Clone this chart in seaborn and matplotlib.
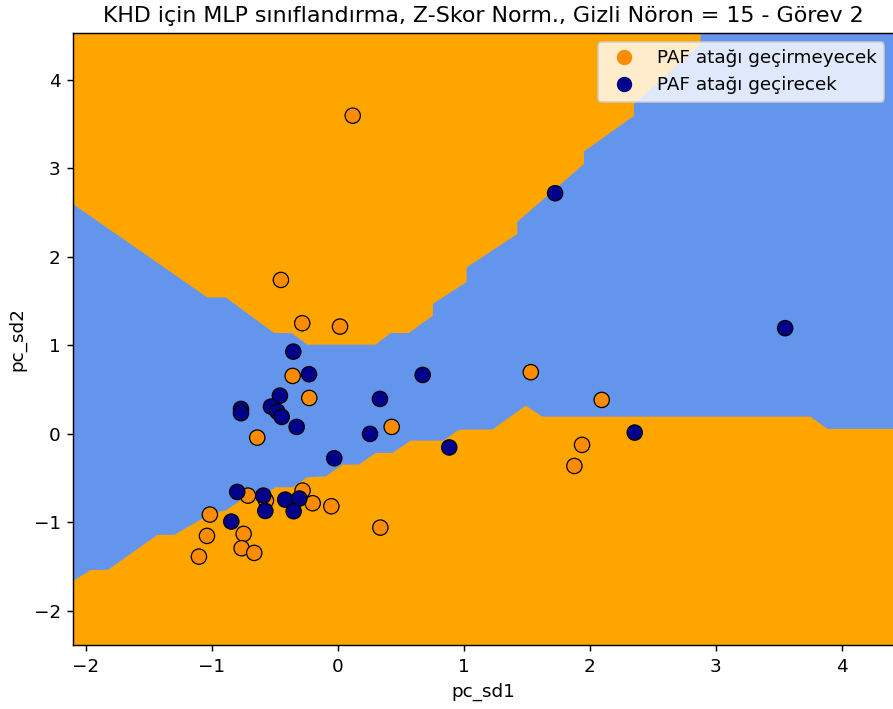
import matplotlib
matplotlib.use("Agg")
import matplotlib.pyplot as plt
from matplotlib.lines import Line2D
import seaborn as sns
import pandas as pd

# ---- data ----
class_labels = ["PAF atağı geçirmeyecek", "PAF atağı geçirecek"]

no_x = [0.118, -0.452, -0.283, 0.017, -0.359, -0.227, -0.640, 0.427,
        -0.714, -0.571, -0.280, -0.200, -0.052, 0.337, -1.016, -1.039,
        -0.748, -0.764, -0.664, -1.103, 1.531, 2.094, 1.938, 1.877]
no_y = [3.593, 1.738, 1.249, 1.211, 0.654, 0.405, -0.043, 0.078,
        -0.698, -0.754, -0.641, -0.784, -0.818, -1.059, -0.912, -1.153,
        -1.130, -1.292, -1.345, -1.387, 0.696, 0.383, -0.125, -0.363]

yes_x = [-0.354, -0.229, -0.460, -0.769, -0.769, -0.531, -0.481, -0.446,
         -0.327, 0.334, 0.255, -0.799, -0.592, -0.576, -0.418, -0.306,
         -0.351, -0.846, 1.724, 3.550, 0.673, -0.029, 0.884, 2.356]
yes_y = [0.928, 0.673, 0.431, 0.281, 0.233, 0.307, 0.251, 0.191,
         0.078, 0.394, -0.001, -0.656, -0.698, -0.871, -0.743, -0.731,
         -0.874, -0.991, 2.717, 1.193, 0.665, -0.276, -0.154, 0.014]

# decision boundary between the upper orange region and the blue region
upper_bx = [-2.10, -1.04, -0.894, -0.511, -0.371, -0.246, 0.296, 0.415, 0.560,
            0.750, 0.750, 1.018, 1.018, 1.420, 1.420, 1.949, 1.949, 2.346,
            2.346, 2.875]
upper_by = [2.593, 1.546, 1.546, 1.144, 1.144, 1.012, 1.012, 1.144, 1.144,
            1.340, 1.472, 1.721, 1.885, 2.262, 2.400, 3.052, 3.194, 3.597,
            3.729, 4.406]

# decision boundary between the blue region and the lower orange region
lower_bx = [-2.10, -1.965, -1.829, -1.437, -1.305, -0.99, -0.894, -0.762,
            -0.630, -0.498, -0.365, -0.246, -0.10, 0.032, 0.163, 0.296,
            0.429, 0.574, 0.833, 0.957, 1.222, 1.487, 1.619, 3.748, 3.881, 4.41]
lower_by = [-1.651, -1.531, -1.531, -1.136, -1.136, -0.88, -0.861, -0.729,
            -0.729, -0.598, -0.598, -0.485, -0.474, -0.342, -0.342, -0.210,
            -0.210, -0.071, -0.071, 0.053, 0.053, 0.324, 0.200, 0.200, 0.061, 0.061]

xlim = (-2.10, 4.41)
ylim = (-2.385, 4.53)

plt.rcParams["font.size"] = 10.2

# ---- figure ----
dpi = 130
fig = plt.figure(figsize=(893 / dpi, 709 / dpi), dpi=dpi)
ax = fig.add_axes([73.3 / 893, 64 / 709, (893.5 - 73.3) / 893, (645 - 32.7) / 709])

ax.set_facecolor("#6495ED")
ax.fill_between(upper_bx, upper_by, ylim[1], color="#FFA500", linewidth=0, zorder=1)
ax.fill_between(lower_bx, ylim[0], lower_by, color="#FFA500", linewidth=0, zorder=1)

df = pd.DataFrame({
    "pc_sd1": no_x + yes_x,
    "pc_sd2": no_y + yes_y,
    "sınıf": [class_labels[0]] * len(no_x) + [class_labels[1]] * len(yes_x),
})
palette = {class_labels[0]: "#FF8C00", class_labels[1]: "#00008B"}
sns.scatterplot(data=df, x="pc_sd1", y="pc_sd2", hue="sınıf", palette=palette,
                s=72, edgecolor="black", linewidth=0.7, ax=ax, legend=False, zorder=3)

ax.set_xlim(*xlim)
ax.set_ylim(*ylim)
ax.set_xticks([-2, -1, 0, 1, 2, 3, 4])
ax.set_yticks([-2, -1, 0, 1, 2, 3, 4])
ax.set_xticklabels(["\u22122", "\u22121", "0", "1", "2", "3", "4"])
ax.set_yticklabels(["\u22122", "\u22121", "0", "1", "2", "3", "4"])
ax.set_xlabel("pc_sd1")
ax.set_ylabel("pc_sd2")
ax.set_title("KHD için MLP sınıflandırma, Z-Skor Norm., Gizli Nöron = 15 - Görev 2",
             fontsize=12.25)

handles = [Line2D([], [], marker="o", linestyle="", markersize=7.5,
                  markerfacecolor=palette[c], markeredgecolor=palette[c], label=c)
           for c in class_labels]
ax.legend(handles=handles, loc="upper right", framealpha=0.8)

fig.savefig("out.png", dpi=dpi)
